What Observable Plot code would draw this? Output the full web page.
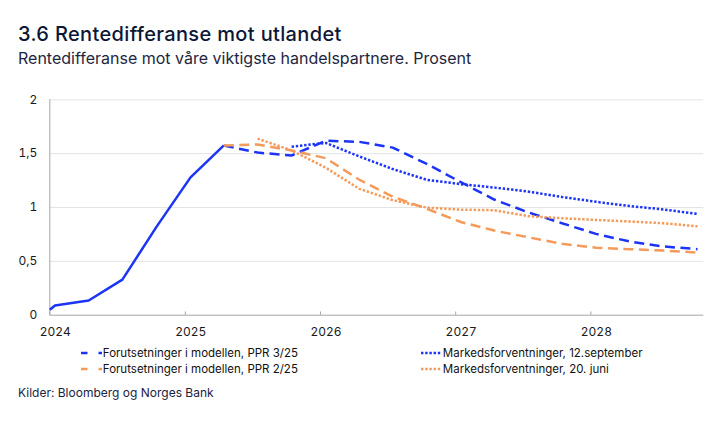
<!DOCTYPE html>
<html><head><meta charset="utf-8">
<script src="https://cdn.jsdelivr.net/npm/d3@7"></script>
<script src="https://cdn.jsdelivr.net/npm/@observablehq/plot@0.6"></script>
<style>
body{margin:0;background:#fff;font-family:Inter,"Noto Sans",sans-serif;}
#wrap{position:relative;width:722px;height:421px;overflow:hidden;background:#fff;}
#title{position:absolute;left:18px;top:24px;font-size:20px;line-height:20px;font-weight:500;letter-spacing:0.35px;color:#0c1736;white-space:nowrap;}
#subtitle{position:absolute;left:18px;top:49.5px;font-size:16px;line-height:16px;color:#1e2640;white-space:nowrap;}
#chart{position:absolute;left:0;top:80px;}
.leg{position:absolute;font-size:11.5px;line-height:16px;color:#111;white-space:nowrap;display:flex;align-items:center;}
.leg svg{display:block;margin-right:0.5px;}
#caption{position:absolute;left:18px;top:385px;font-size:12px;line-height:16px;color:#1a2340;white-space:nowrap;}
</style></head>
<body>
<div id="wrap">
<div id="title">3.6 Rentedifferanse mot utlandet</div>
<div id="subtitle">Rentedifferanse mot våre viktigste handelspartnere. Prosent</div>
<div id="chart"></div>
<div id="legend"></div>
<div id="caption">Kilder: Bloomberg og Norges Bank</div>
</div>
<script>
// ---- data ----
const histDates = ["2024-01-01","2024-01-15","2024-04-15","2024-07-15","2024-10-15","2025-01-15","2025-04-15"];
const histValues = [0.05,0.09,0.136,0.33,0.82,1.28,1.576];

const pprDates = ["2025-04-15","2025-07-15","2025-10-15","2026-01-15","2026-04-15","2026-07-15","2026-10-15","2027-01-15","2027-04-15","2027-07-15","2027-10-15","2028-01-15","2028-04-15","2028-07-15","2028-10-15"];
const ppr325Values = [1.576,1.51,1.483,1.62,1.61,1.556,1.405,1.235,1.074,0.956,0.854,0.755,0.684,0.638,0.613];
const ppr225Values = [1.576,1.585,1.53,1.458,1.26,1.10,0.988,0.865,0.786,0.724,0.663,0.626,0.613,0.60,0.582];

const sepDates = ["2025-10-15","2026-01-15","2026-04-15","2026-07-15","2026-10-15","2027-01-15","2027-04-15","2027-07-15","2027-10-15","2028-01-15","2028-04-15","2028-07-15","2028-10-15"];
const sepValues = [1.565,1.60,1.475,1.357,1.257,1.217,1.185,1.148,1.098,1.053,1.013,0.982,0.94];

const junDates = ["2025-07-15","2025-10-15","2026-01-15","2026-04-15","2026-07-15","2026-10-15","2027-01-15","2027-04-15","2027-07-15","2027-10-15","2028-01-15","2028-04-15","2028-07-15","2028-10-15"];
const junValues = [1.64,1.53,1.37,1.175,1.068,0.999,0.98,0.975,0.92,0.90,0.885,0.87,0.854,0.825];

const yTicks = [0,0.5,1,1.5,2];
const yearLabels = ["2024","2025","2026","2027","2028"];
const xDomain = ["2024-01-01","2028-11-01"];

const legendLabels = ["Forutsetninger i modellen, PPR 3/25","Markedsforventninger, 12.september","Forutsetninger i modellen, PPR 2/25","Markedsforventninger, 20. juni"];

// ---- build ----
const BLUE = "#1b34f5", ORANGE = "#f49a5a", AXIS = "#a6a6a6";
const toRows = (dates, vals) => dates.map((d,i) => ({date:new Date(d), value:vals[i]}));
const hist = toRows(histDates, histValues);
const ppr325 = toRows(pprDates, ppr325Values);
const ppr225 = toRows(pprDates, ppr225Values);
const sep = toRows(sepDates, sepValues);
const jun = toRows(junDates, junValues);
const years = yearLabels.map(y => new Date(y + "-01-01"));
const dom = xDomain.map(d => new Date(d));
const DASH = "10 5.5", DOT = "2.4 1.8";
const lineStyle = {x: "date", y: "value", strokeWidth: 2.5, strokeLinecap: "butt", strokeLinejoin: "miter"};

const chart = Plot.plot({
  width: 722, height: 265,
  marginLeft: 49.3, marginRight: 18.7, marginTop: 19.3, marginBottom: 30.3,
  x: {type: "utc", domain: dom},
  y: {domain: [0, 2]},
  style: {fontFamily: "Inter, 'Noto Sans', sans-serif", fontSize: "12px", color: "#1a1a1a", background: "transparent", overflow: "visible"},
  marks: [
    Plot.gridY(yTicks.filter(t => t > 0), {stroke: "#e4e4e4", strokeOpacity: 1}),
    Plot.ruleY([0], {stroke: AXIS}),
    Plot.ruleX([dom[0]], {y1: 0, y2: 2, stroke: AXIS}),
    Plot.ruleX(years, {y1: 0, y2: 0.03, stroke: AXIS}),
    Plot.axisY(yTicks, {tickSize: 0, tickPadding: 12.6, label: null, tickFormat: d => String(d).replace(".", ",")}),
    Plot.axisX(years, {tickSize: 0, tickPadding: 12, label: null, dx: 5.5, tickFormat: d => String(d.getUTCFullYear())}),
    Plot.line(hist, {...lineStyle, stroke: BLUE, strokeLinejoin: "round"}),
    Plot.line(ppr325, {...lineStyle, stroke: BLUE, strokeDasharray: DASH}),
    Plot.line(sep, {...lineStyle, stroke: BLUE, strokeDasharray: DOT}),
    Plot.line(ppr225, {...lineStyle, stroke: ORANGE, strokeDasharray: DASH}),
    Plot.line(jun, {...lineStyle, stroke: ORANGE, strokeDasharray: DOT})
  ]
});
document.getElementById("chart").appendChild(chart);

// ---- legend ----
const legItems = [
  {label: legendLabels[0], color: BLUE, dash: "6.5 11", left: 81, top: 345.3},
  {label: legendLabels[1], color: BLUE, dash: DOT, left: 421, top: 345.3},
  {label: legendLabels[2], color: ORANGE, dash: "6.5 11", left: 81, top: 361.3},
  {label: legendLabels[3], color: ORANGE, dash: DOT, left: 421, top: 361.3}
];
const legend = document.getElementById("legend");
for (const it of legItems) {
  const div = document.createElement("div");
  div.className = "leg";
  div.style.left = it.left + "px";
  div.style.top = it.top + "px";
  div.innerHTML = `<svg width="21.3" height="16"><line x1="0" x2="21.3" y1="8" y2="8" stroke="${it.color}" stroke-width="2.5" stroke-dasharray="${it.dash}"/></svg><span>${it.label}</span>`;
  legend.appendChild(div);
}
</script>
</body></html>
